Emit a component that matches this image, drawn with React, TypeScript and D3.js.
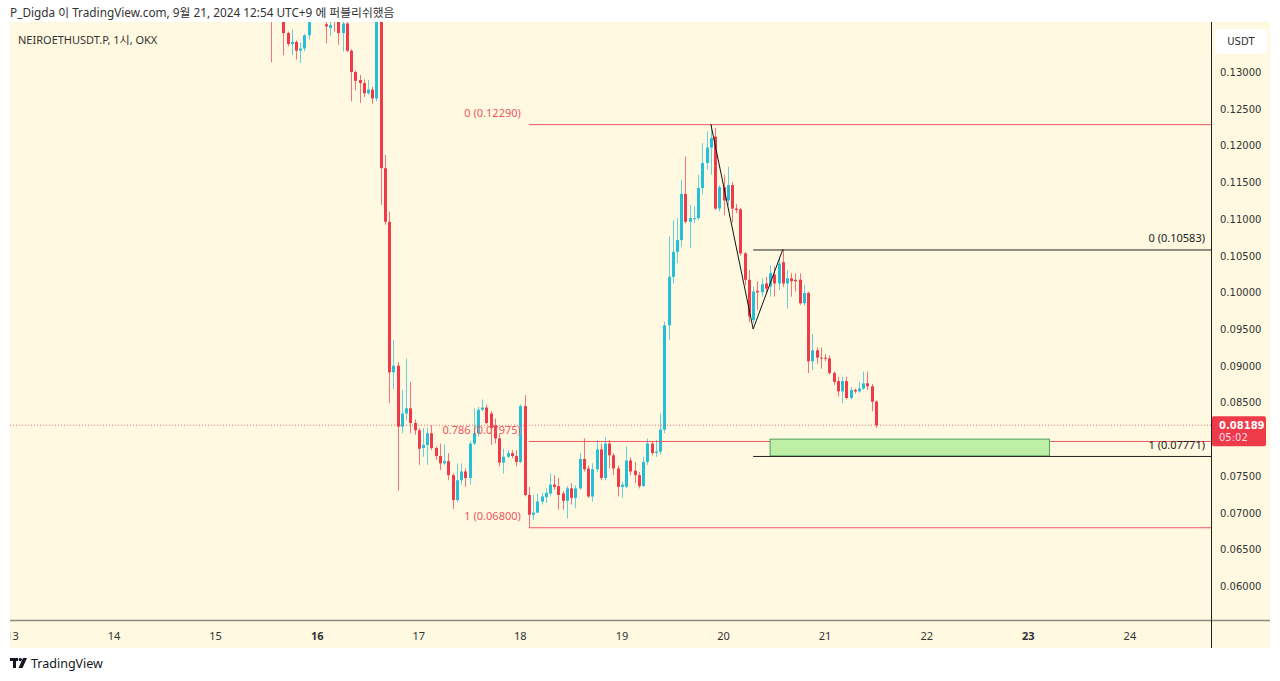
import * as d3 from 'd3';

// hourly candles, NEIROETHUSDT.P (OKX), first candle Sep 15 13:00
const FIRST_CANDLE = Date.UTC(2024, 8, 15, 13);

const opens = [
  0.1390, 0.1375, 0.1395, 0.1380, 0.1353, 0.1338, 0.1341, 0.1329, 0.1332, 0.1350, 0.1368, 0.1385,
  0.1392, 0.1365, 0.1360, 0.1380, 0.1368, 0.1353, 0.1366, 0.1329, 0.1300, 0.1289, 0.1285, 0.1271,
  0.1276, 0.1264, 0.1368, 0.1169, 0.1096, 0.0891, 0.0900, 0.0817, 0.0835, 0.0842, 0.0822, 0.0812,
  0.0788, 0.0792, 0.0808, 0.0788, 0.0777, 0.0767, 0.0770, 0.0751, 0.0717, 0.0744, 0.0756, 0.0747,
  0.0794, 0.0808, 0.0840, 0.0843, 0.0835, 0.0819, 0.0801, 0.0768, 0.0776, 0.0781, 0.0777, 0.0769,
  0.0845, 0.0724, 0.0697, 0.0700, 0.0715, 0.0721, 0.0726, 0.0738, 0.0736, 0.0726, 0.0716, 0.0733,
  0.0720, 0.0733, 0.0773, 0.0760, 0.0722, 0.0759, 0.0786, 0.0747, 0.0794, 0.0778, 0.0760, 0.0735,
  0.0735, 0.0771, 0.0757, 0.0751, 0.0736, 0.0769, 0.0794, 0.0781, 0.0783, 0.0813, 0.0955, 0.1021,
  0.1055, 0.1071, 0.1134, 0.1096, 0.1100, 0.1101, 0.1142, 0.1176, 0.1197, 0.1212, 0.1114, 0.1143,
  0.1125, 0.1146, 0.1114, 0.1113, 0.1053, 0.1017, 0.0962, 0.1002, 0.1000, 0.1012, 0.1008, 0.1024,
  0.1012, 0.1041, 0.1012, 0.1019, 0.1017, 0.1017, 0.0985, 0.0999, 0.0906, 0.0921, 0.0911, 0.0911,
  0.0910, 0.0890, 0.0879, 0.0865, 0.0879, 0.0856, 0.0867, 0.0865, 0.0869, 0.0876, 0.0872, 0.0851,
];
const highs = [
  0.1398, 0.1402, 0.1400, 0.1384, 0.1355, 0.1358, 0.1343, 0.1340, 0.1352, 0.1372, 0.1392, 0.1400,
  0.1398, 0.1375, 0.1372, 0.1388, 0.1372, 0.1372, 0.1372, 0.1331, 0.1302, 0.1296, 0.1290, 0.1289,
  0.1280, 0.1375, 0.1375, 0.1187, 0.1110, 0.0935, 0.0905, 0.0867, 0.0910, 0.0878, 0.0827, 0.0815,
  0.0815, 0.0815, 0.0819, 0.0790, 0.0794, 0.0793, 0.0781, 0.0754, 0.0767, 0.0767, 0.0760, 0.0797,
  0.0842, 0.0844, 0.0854, 0.0847, 0.0838, 0.0828, 0.0808, 0.0787, 0.0785, 0.0785, 0.0785, 0.0847,
  0.0860, 0.0735, 0.0724, 0.0726, 0.0727, 0.0733, 0.0753, 0.0751, 0.0747, 0.0729, 0.0736, 0.0740,
  0.0737, 0.0781, 0.0801, 0.0764, 0.0767, 0.0799, 0.0794, 0.0803, 0.0799, 0.0781, 0.0764, 0.0742,
  0.0790, 0.0775, 0.0769, 0.0755, 0.0776, 0.0801, 0.0796, 0.0799, 0.0835, 0.0960, 0.1076, 0.1098,
  0.1101, 0.1153, 0.1185, 0.1119, 0.1117, 0.1160, 0.1203, 0.1219, 0.1229, 0.1224, 0.1146, 0.1160,
  0.1171, 0.1150, 0.1120, 0.1115, 0.1055, 0.1030, 0.1008, 0.1015, 0.1019, 0.1021, 0.1037, 0.1035,
  0.1048, 0.1058, 0.1030, 0.1026, 0.1026, 0.1026, 0.1010, 0.1001, 0.0943, 0.0925, 0.0925, 0.0916,
  0.0914, 0.0892, 0.0885, 0.0885, 0.0885, 0.0871, 0.0869, 0.0878, 0.0892, 0.0892, 0.0875, 0.0853,
];
const lows = [
  0.1313, 0.1370, 0.1372, 0.1323, 0.1335, 0.1323, 0.1317, 0.1312, 0.1328, 0.1344, 0.1368, 0.1378,
  0.1369, 0.1339, 0.1349, 0.1355, 0.1337, 0.1328, 0.1327, 0.1260, 0.1275, 0.1258, 0.1266, 0.1269,
  0.1257, 0.1260, 0.1119, 0.1092, 0.0849, 0.0868, 0.0730, 0.0808, 0.0826, 0.0808, 0.0806, 0.0765,
  0.0776, 0.0765, 0.0785, 0.0772, 0.0758, 0.0765, 0.0744, 0.0705, 0.0714, 0.0738, 0.0735, 0.0738,
  0.0792, 0.0803, 0.0838, 0.0820, 0.0792, 0.0794, 0.0763, 0.0753, 0.0774, 0.0774, 0.0763, 0.0767,
  0.0722, 0.0680, 0.0690, 0.0699, 0.0711, 0.0713, 0.0722, 0.0731, 0.0704, 0.0704, 0.0692, 0.0711,
  0.0706, 0.0731, 0.0756, 0.0720, 0.0715, 0.0755, 0.0744, 0.0744, 0.0760, 0.0751, 0.0722, 0.0720,
  0.0733, 0.0751, 0.0740, 0.0733, 0.0735, 0.0765, 0.0778, 0.0776, 0.0779, 0.0808, 0.0935, 0.1012,
  0.1040, 0.1062, 0.1094, 0.1060, 0.1094, 0.1098, 0.1133, 0.1167, 0.1160, 0.1112, 0.1110, 0.1105,
  0.1118, 0.1095, 0.1108, 0.1050, 0.1010, 0.0959, 0.0958, 0.0976, 0.0994, 0.0999, 0.0994, 0.0994,
  0.1003, 0.1007, 0.0978, 0.0994, 0.1001, 0.0983, 0.0982, 0.0890, 0.0894, 0.0903, 0.0896, 0.0906,
  0.0888, 0.0874, 0.0858, 0.0849, 0.0854, 0.0854, 0.0862, 0.0863, 0.0867, 0.0867, 0.0838, 0.0815,
];
const closes = [
  0.1375, 0.1395, 0.1380, 0.1353, 0.1338, 0.1341, 0.1329, 0.1332, 0.1350, 0.1368, 0.1385, 0.1392,
  0.1370, 0.1362, 0.1364, 0.1372, 0.1353, 0.1366, 0.1329, 0.1300, 0.1288, 0.1285, 0.1271, 0.1276,
  0.1264, 0.1368, 0.1169, 0.1096, 0.0891, 0.0900, 0.0817, 0.0835, 0.0842, 0.0822, 0.0812, 0.0787,
  0.0792, 0.0808, 0.0788, 0.0777, 0.0767, 0.0770, 0.0751, 0.0717, 0.0744, 0.0756, 0.0747, 0.0794,
  0.0808, 0.0840, 0.0843, 0.0822, 0.0815, 0.0801, 0.0768, 0.0776, 0.0781, 0.0777, 0.0769, 0.0845,
  0.0724, 0.0697, 0.0700, 0.0715, 0.0722, 0.0727, 0.0738, 0.0735, 0.0724, 0.0716, 0.0733, 0.0720,
  0.0733, 0.0773, 0.0759, 0.0722, 0.0759, 0.0786, 0.0747, 0.0794, 0.0778, 0.0760, 0.0735, 0.0738,
  0.0771, 0.0756, 0.0751, 0.0736, 0.0769, 0.0794, 0.0781, 0.0783, 0.0813, 0.0955, 0.1021, 0.1055,
  0.1071, 0.1134, 0.1096, 0.1101, 0.1101, 0.1142, 0.1176, 0.1197, 0.1210, 0.1114, 0.1143, 0.1125,
  0.1146, 0.1114, 0.1112, 0.1053, 0.1017, 0.0967, 0.1001, 0.1000, 0.1011, 0.1005, 0.1026, 0.1012,
  0.1039, 0.1012, 0.1019, 0.1015, 0.1015, 0.0985, 0.0999, 0.0906, 0.0921, 0.0911, 0.0910, 0.0910,
  0.0890, 0.0878, 0.0865, 0.0879, 0.0856, 0.0867, 0.0865, 0.0869, 0.0876, 0.0872, 0.0851, 0.08189,
];

const LAST_PRICE = 0.08189;
const LAST_COUNTDOWN = '05:02';

// fib retracement #1 (red), drawn from the Sep 18 low
const redFibStart = Date.UTC(2024, 8, 18, 2);
const redFibLevels = [
  { ratio: '0', price: 0.1229 },
  { ratio: '0.786', price: 0.07975 },
  { ratio: '1', price: 0.068 },
];
// fib retracement #2 (black)
const blackFibStart = Date.UTC(2024, 8, 20, 7);
const blackFibLevels = [
  { ratio: '0', price: 0.10583 },
  { ratio: '1', price: 0.07771 },
];
// zigzag drawing
const zigzag = [
  { t: Date.UTC(2024, 8, 19, 21), price: 0.1229 },
  { t: Date.UTC(2024, 8, 20, 7), price: 0.095 },
  { t: Date.UTC(2024, 8, 20, 14), price: 0.10583 },
];
// green box
const zone = { t0: Date.UTC(2024, 8, 20, 11), t1: Date.UTC(2024, 8, 23, 5), top: 0.08, bottom: 0.07771 };

const UP = '#26BFD8';
const DOWN = '#EF3A4A';
const BG = '#FEF9E0';
const FIB_RED = '#EB5764';
const AXIS_FONT = '"DejaVu Sans", Verdana, sans-serif';

export default function App() {
  const W = 1280;
  const H = 681;
  const plot = { left: 10, right: 1211, top: 22, bottom: 620 };

  const x = d3.scaleTime()
    .domain([new Date(Date.UTC(2024, 8, 13)), new Date(Date.UTC(2024, 8, 24))])
    .range([12.4, 1129.9]);
  const y = d3.scaleLinear().domain([0.06, 0.13]).range([586, 72]);

  const candles = opens.map((o, i) => ({
    t: FIRST_CANDLE + i * 3600e3,
    o, h: highs[i], l: lows[i], c: closes[i],
  }));

  // the last-price badge hides the tick it sits on
  const priceTicks = d3.range(0.06, 0.13001, 0.005)
    .filter(p => Math.abs(y(p) - (y(LAST_PRICE) + 6)) > 18);
  const dayTicks = d3.utcDay.range(new Date(Date.UTC(2024, 8, 13)), new Date(Date.UTC(2024, 8, 25)));

  const zigLine = d3.line<{ t: number; price: number }>()
    .x(d => x(d.t))
    .y(d => y(d.price));

  const bodyW = 3;

  return (
    <svg width={W} height={H} style={{ position: 'absolute', left: 0, top: 0 }}>
      <defs>
        <clipPath id="plot-clip">
          <rect x={plot.left} y={plot.top} width={plot.right - plot.left} height={plot.bottom - plot.top} />
        </clipPath>
        <clipPath id="time-clip">
          <rect x={plot.left} y={plot.bottom} width={plot.right - plot.left} height={28} />
        </clipPath>
      </defs>
      <rect width={W} height={H} fill="#fff" />
      <rect x={10} y={22} width={1260} height={626} fill={BG} />

      {/* header */}
      <text x={10} y={17} fontSize={11.8} fill="#333" fontFamily='"Noto Sans", "Noto Sans CJK KR", sans-serif'>
        P_Digda 이 TradingView.com, 9월 21, 2024 12:54 UTC+9 에 퍼블리쉬했음
      </text>

      <g clipPath="url(#plot-clip)">
        {/* candles */}
        {candles.map(d => {
          const cx = Math.round(x(d.t)) + 0.5;
          const up = d.c >= d.o;
          const col = up ? UP : DOWN;
          const top = y(Math.max(d.o, d.c));
          const bot = y(Math.min(d.o, d.c));
          return (
            <g key={d.t}>
              <line x1={cx} x2={cx} y1={y(d.h)} y2={y(d.l)} stroke={col} strokeOpacity={0.7} strokeWidth={1} />
              <rect x={cx - bodyW / 2} y={top} width={bodyW} height={Math.max(1, bot - top)} fill={col} />
            </g>
          );
        })}

        {/* last price line */}
        <line x1={plot.left} x2={plot.right} y1={y(LAST_PRICE)} y2={y(LAST_PRICE)}
          stroke={DOWN} strokeOpacity={0.75} strokeDasharray="1 2" />

        {/* red fib */}
        {redFibLevels.map(l => (
          <g key={l.ratio}>
            <line x1={x(redFibStart)} x2={plot.right} y1={y(l.price) + 0.5} y2={y(l.price) + 0.5}
              stroke={FIB_RED} strokeWidth={1} />
            <text x={x(redFibStart) - 8} y={y(l.price) - 7} textAnchor="end" fontSize={11}
              fill={FIB_RED} fontFamily='"Noto Sans", sans-serif'>
              {`${l.ratio} (${l.price.toFixed(5)})`}
            </text>
          </g>
        ))}

        {/* green zone */}
        <rect x={x(zone.t0)} y={y(zone.top)} width={x(zone.t1) - x(zone.t0)} height={y(zone.bottom) - y(zone.top)}
          fill="#BDEFA5" stroke="#4E9E62" strokeWidth={1} />

        {/* black fib */}
        {blackFibLevels.map(l => (
          <g key={l.ratio}>
            <line x1={x(blackFibStart)} x2={plot.right} y1={y(l.price) + 0.5} y2={y(l.price) + 0.5}
              stroke="#222" strokeWidth={1} />
            <text x={plot.right - 6} y={y(l.price) - 7} textAnchor="end" fontSize={11}
              fill="#222" fontFamily='"Noto Sans", sans-serif'>
              {`${l.ratio} (${l.price.toFixed(5)})`}
            </text>
          </g>
        ))}

        {/* zigzag */}
        <path d={zigLine(zigzag) || ''} fill="none" stroke="#111" strokeWidth={1} />

        <text x={18} y={44} fontSize={11} fill="#333" fontFamily='"Noto Sans", "Noto Sans CJK KR", sans-serif'>
          NEIROETHUSDT.P, 1시, OKX
        </text>
      </g>

      {/* time axis */}
      <line x1={10} x2={1270} y1={620.5} y2={620.5} stroke="#8a8a80" strokeWidth={1.5} />
      <g clipPath="url(#time-clip)">
        {dayTicks.map(d => (
          <text key={+d} x={x(d)} y={640} textAnchor="middle" fontSize={11}
            fontWeight={d.getUTCDay() === 1 ? 'bold' : 'normal'}
            fill="#333" fontFamily='"Noto Sans", sans-serif'>
            {d.getUTCDate()}
          </text>
        ))}
      </g>

      {/* price axis */}
      <line x1={plot.right + 0.5} x2={plot.right + 0.5} y1={22} y2={648} stroke="#222" strokeWidth={1} />
      <rect x={1215} y={29} width={52} height={25} rx={3} fill="#fff" />
      <text x={1241} y={45} textAnchor="middle" fontSize={10} fill="#333" fontFamily={AXIS_FONT}>USDT</text>
      {priceTicks.map(p => (
        <text key={p} x={1220} y={y(p) + 4} fontSize={10} fill="#333" fontFamily={AXIS_FONT}>
          {p.toFixed(5)}
        </text>
      ))}
      <rect x={1212} y={y(LAST_PRICE) - 9} width={54} height={30} rx={2} fill={DOWN} />
      <text x={1219} y={y(LAST_PRICE) + 4} fontSize={10} fontWeight="bold" fill="#fff" fontFamily={AXIS_FONT}>
        {LAST_PRICE.toFixed(5)}
      </text>
      <text x={1219} y={y(LAST_PRICE) + 16} fontSize={10} fill="#fde" fontFamily={AXIS_FONT}>
        {LAST_COUNTDOWN}
      </text>

      {/* footer logo */}
      <g fill="#131722">
        <rect x={10} y={658} width={8} height={3} />
        <rect x={13} y={658} width={3} height={10} />
        <circle cx={20.3} cy={659.6} r={1.7} />
        <polygon points="23,658 27,658 22.5,668 18.5,668" />
      </g>
      <text x={31} y={668} fontSize={12.5} fill="#131722" fontFamily='"Noto Sans", sans-serif'>TradingView</text>
    </svg>
  );
}
